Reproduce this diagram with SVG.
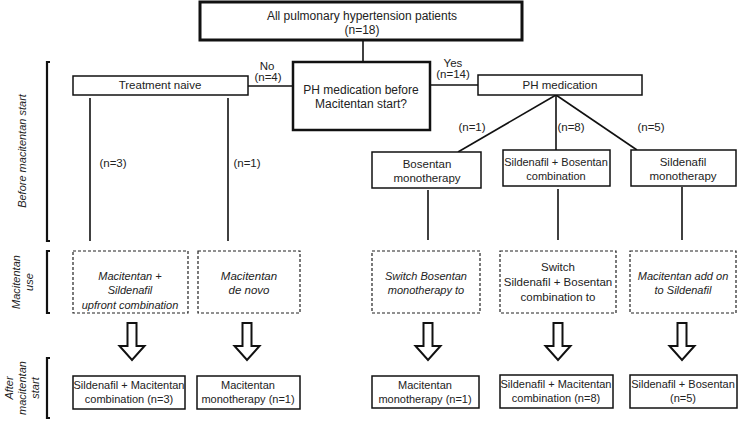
<svg xmlns="http://www.w3.org/2000/svg" width="738" height="422" viewBox="0 0 738 422">
<style>
text{font-family:"Liberation Sans",Arial,sans-serif;font-size:11px;fill:#222;text-anchor:middle}
.it{font-style:italic}
.big{font-size:12px}
.mid{font-size:11.5px}
.box{fill:#fff;stroke:#111;stroke-width:1.5}
.dash{fill:#fff;stroke:#222;stroke-width:1.2;stroke-dasharray:3 2}
.ln{stroke:#111;stroke-width:1.6;fill:none}
.br{stroke:#111;stroke-width:2.2;fill:none}
.arr{fill:#fff;stroke:#111;stroke-width:2;stroke-linejoin:miter}
</style>
<defs>
<path id="downarr" class="arr" d="M-4.5,0 H4.5 V23 H12.5 L0,37 L-12.5,23 H-4.5 Z"/>
</defs>
<g id="side-labels">
<text class="it" transform="translate(26,151) rotate(-90)">Before macitentan start</text>
<path class="br" d="M50,62 H47 V241 H50"/>
<text class="it" transform="translate(20,282) rotate(-90)">Macitentan</text>
<text class="it" transform="translate(33,282) rotate(-90)">use</text>
<path class="br" d="M50,251 H47 V313 H50"/>
<text class="it" transform="translate(13,388) rotate(-90)">After</text>
<text class="it" transform="translate(26,388) rotate(-90)">macitentan</text>
<text class="it" transform="translate(39,388) rotate(-90)">start</text>
<path class="br" d="M50,358 H47 V418 H50"/>
</g>
<g id="connectors">
<line class="ln" x1="363" y1="40" x2="363" y2="62"/>
<line class="ln" x1="248" y1="86" x2="293" y2="86"/>
<line class="ln" x1="430" y1="85" x2="478" y2="85"/>
<line class="ln" x1="556" y1="95" x2="458" y2="152"/>
<line class="ln" x1="556" y1="95" x2="556" y2="150"/>
<line class="ln" x1="556" y1="95" x2="637" y2="150"/>
<line class="ln" x1="90" y1="98" x2="90" y2="241"/>
<line class="ln" x1="228" y1="98" x2="228" y2="241"/>
<line class="ln" x1="428" y1="190" x2="428" y2="240"/>
<line class="ln" x1="558" y1="189" x2="558" y2="240"/>
<line class="ln" x1="682" y1="187" x2="682" y2="240"/>
<text class="mid" x="267" y="70">No</text>
<text class="mid" x="268" y="81">(n=4)</text>
<text class="mid" x="453" y="67">Yes</text>
<text class="mid" x="453" y="78">(n=14)</text>
<text class="mid" x="472" y="131">(n=1)</text>
<text class="mid" x="571" y="131">(n=8)</text>
<text class="mid" x="651" y="131">(n=5)</text>
<text class="mid" x="113" y="167">(n=3)</text>
<text class="mid" x="247" y="167">(n=1)</text>
<use href="#downarr" x="132" y="323"/>
<use href="#downarr" x="247" y="323"/>
<use href="#downarr" x="428" y="323"/>
<use href="#downarr" x="558" y="323"/>
<use href="#downarr" x="682" y="323"/>
</g>
<g id="all-patients">
<rect x="200" y="2" width="322" height="38" fill="#fff" stroke="#111" stroke-width="3"/>
<text class="big" x="362" y="20">All pulmonary hypertension patients</text>
<text class="big" x="362" y="34">(n=18)</text>
</g>
<g id="question">
<rect x="293" y="62" width="137" height="68" fill="#fff" stroke="#111" stroke-width="2.5"/>
<text class="big" x="361" y="94">PH medication before</text>
<text class="big" x="361" y="108">Macitentan start?</text>
</g>
<g id="treatment-naive">
<rect class="box" x="73" y="76" width="175" height="19"/>
<text class="mid" x="160" y="89">Treatment naive</text>
</g>
<g id="ph-medication">
<rect class="box" x="478" y="75" width="164" height="20"/>
<text class="mid" x="560" y="89">PH medication</text>
</g>
<g id="bosentan-mono">
<rect class="box" x="372" y="152" width="109" height="36"/>
<text class="mid" x="427" y="168">Bosentan</text>
<text class="mid" x="427" y="182">monotherapy</text>
</g>
<g id="sil-bos-combo">
<rect class="box" x="503" y="150" width="107" height="36"/>
<text x="556" y="166">Sildenafil + Bosentan</text>
<text x="556" y="180">combination</text>
</g>
<g id="sildenafil-mono">
<rect class="box" x="631" y="150" width="105" height="36"/>
<text class="mid" x="683" y="166">Sildenafil</text>
<text class="mid" x="683" y="180">monotherapy</text>
</g>
<g id="use-upfront">
<rect class="dash" x="73" y="251" width="115" height="62"/>
<text class="it" x="130" y="280">Macitentan +</text>
<text class="it" x="130" y="294">Sildenafil</text>
<text class="it" x="130" y="309">upfront combination</text>
</g>
<g id="use-denovo">
<rect class="dash" x="198" y="251" width="102" height="62"/>
<text class="it mid" x="249" y="280">Macitentan</text>
<text class="it mid" x="249" y="294">de novo</text>
</g>
<g id="use-switch-bos">
<rect class="dash" x="372" y="251" width="108" height="62"/>
<text class="it" x="426" y="280">Switch Bosentan</text>
<text class="it" x="426" y="294">monotherapy to</text>
</g>
<g id="use-switch-combo">
<rect class="dash" x="500" y="251" width="116" height="62"/>
<text class="mid" x="558" y="271">Switch</text>
<text class="mid" x="558" y="286">Sildenafil + Bosentan</text>
<text class="mid" x="558" y="301">combination to</text>
</g>
<g id="use-addon">
<rect class="dash" x="630" y="251" width="106" height="62"/>
<text class="it" x="683" y="280">Macitentan add on</text>
<text class="it" x="683" y="294">to Sildenafil</text>
</g>
<g id="after-1">
<rect class="box" x="73" y="376" width="112" height="33"/>
<text x="129" y="389">Sildenafil + Macitentan</text>
<text x="129" y="403">combination (n=3)</text>
</g>
<g id="after-2">
<rect class="box" x="197" y="376" width="103" height="33"/>
<text x="248" y="389">Macitentan</text>
<text x="248" y="403">monotherapy (n=1)</text>
</g>
<g id="after-3">
<rect class="box" x="372" y="376" width="107" height="32"/>
<text x="425" y="389">Macitentan</text>
<text x="425" y="403">monotherapy (n=1)</text>
</g>
<g id="after-4">
<rect class="box" x="500" y="375" width="113" height="33"/>
<text x="556" y="388">Sildenafil + Macitentan</text>
<text x="556" y="402">combination (n=8)</text>
</g>
<g id="after-5">
<rect class="box" x="630" y="375" width="107" height="33"/>
<text x="683" y="388">Sildenafil + Bosentan</text>
<text x="683" y="402">(n=5)</text>
</g>
</svg>
